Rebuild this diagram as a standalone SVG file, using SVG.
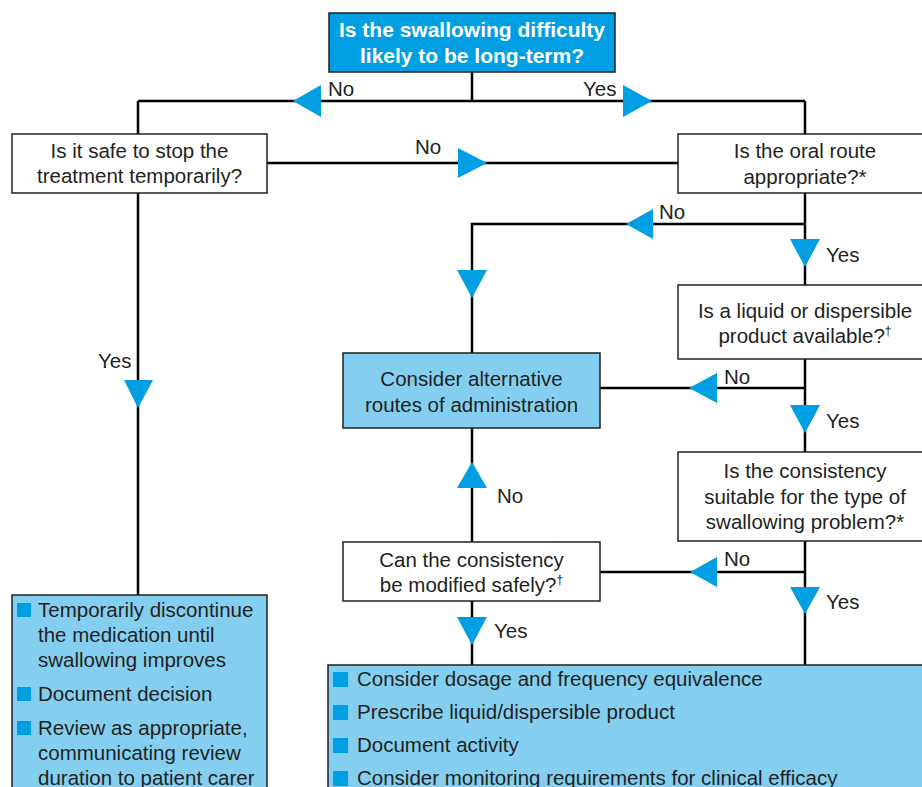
<svg xmlns="http://www.w3.org/2000/svg" width="922" height="787" viewBox="0 0 922 787">
<style>
.box{fill:#fff;stroke:#231f20;stroke-width:1.5}
.lbox{fill:#84cff0;stroke:#231f20;stroke-width:1.5}
.tbox{fill:#009fe3;stroke:#231f20;stroke-width:1.5}
.t{font-family:"Liberation Sans",Arial,sans-serif;font-size:20.5px;fill:#231f20}
.c{text-anchor:middle}
.tt{font-family:"Liberation Sans",Arial,sans-serif;font-size:21px;font-weight:bold;fill:#fff;text-anchor:middle}
.ln{stroke:#000;stroke-width:2.5;fill:none}
.ar{fill:#009fe3}
.bul{fill:#009fe3}
.sup{font-size:12px;fill:#231f20}
</style>
<rect width="922" height="787" fill="#fff"/>
<g id="connectors">
<path class="ln" d="M472 72V101M138 101H805M138 101V134M805 101V134M267 163H678M138 193V595M805 193V285M805 224H472V353M805 359V452M600 388H805M805 541V665M600 572H805M472 542V428M472 601V665"/>
<polygon class="ar" points="293,101 321,85 321,117"/>
<polygon class="ar" points="652,101 623,85 623,117"/>
<polygon class="ar" points="487,163 458,148 458,178"/>
<polygon class="ar" points="626,224 653,209 653,239"/>
<polygon class="ar" points="805,267 790,239 820,239"/>
<polygon class="ar" points="472,298 457,270 487,270"/>
<polygon class="ar" points="689,388 717,373 717,403"/>
<polygon class="ar" points="805,433 790,405 820,405"/>
<polygon class="ar" points="690,572 717,557 717,587"/>
<polygon class="ar" points="805,614 790,587 820,587"/>
<polygon class="ar" points="472,462 457,488 487,488"/>
<polygon class="ar" points="472,645 457,617 487,617"/>
<polygon class="ar" points="138,408 124,380 153,380"/>
<text class="t" x="328" y="96">No</text>
<text class="t" x="583" y="96">Yes</text>
<text class="t" x="415" y="154">No</text>
<text class="t" x="659" y="219">No</text>
<text class="t" x="826" y="262">Yes</text>
<text class="t" x="724" y="384">No</text>
<text class="t" x="826" y="428">Yes</text>
<text class="t" x="724" y="566">No</text>
<text class="t" x="826" y="609">Yes</text>
<text class="t" x="497" y="503">No</text>
<text class="t" x="494" y="638">Yes</text>
<text class="t" x="98" y="368">Yes</text>
</g>
<g id="start">
<rect class="tbox" x="329" y="13" width="286" height="59"/>
<text class="tt" x="472" y="37">Is the swallowing difficulty</text>
<text class="tt" x="472" y="63">likely to be long-term?</text>
</g>
<g id="safe-stop">
<rect class="box" x="12" y="134" width="255" height="59"/>
<text class="t c" x="139.5" y="158">Is it safe to stop the</text>
<text class="t c" x="139.5" y="183">treatment temporarily?</text>
</g>
<g id="oral-route">
<rect class="box" x="678" y="134" width="260" height="59"/>
<text class="t c" x="805" y="158">Is the oral route</text>
<text class="t c" x="805" y="184">appropriate?*</text>
</g>
<g id="liquid">
<rect class="box" x="678" y="285" width="260" height="74"/>
<text class="t c" x="805" y="318">Is a liquid or dispersible</text>
<text class="t c" x="805" y="343">product available?<tspan class="sup" dy="-8">†</tspan></text>
</g>
<g id="alternative">
<rect class="lbox" x="343" y="353" width="257" height="75"/>
<text class="t c" x="471.5" y="386">Consider alternative</text>
<text class="t c" x="471.5" y="412">routes of administration</text>
</g>
<g id="consistency">
<rect class="box" x="678" y="452" width="260" height="89"/>
<text class="t c" x="805" y="478">Is the consistency</text>
<text class="t c" x="805" y="504">suitable for the type of</text>
<text class="t c" x="805" y="529">swallowing problem?*</text>
</g>
<g id="modify">
<rect class="box" x="343" y="542" width="257" height="59"/>
<text class="t c" x="471.5" y="567">Can the consistency</text>
<text class="t c" x="471.5" y="592">be modified safely?<tspan class="sup" dy="-8">†</tspan></text>
</g>
<g id="discontinue">
<rect class="lbox" x="12" y="595" width="255" height="210"/>
<rect class="bul" x="17" y="603" width="14" height="14"/>
<text class="t" x="38" y="617">Temporarily discontinue</text>
<text class="t" x="38" y="642">the medication until</text>
<text class="t" x="38" y="667">swallowing improves</text>
<rect class="bul" x="17" y="687" width="14" height="14"/>
<text class="t" x="38" y="701">Document decision</text>
<rect class="bul" x="17" y="721" width="14" height="14"/>
<text class="t" x="38" y="735">Review as appropriate,</text>
<text class="t" x="38" y="760">communicating review</text>
<text class="t" x="38" y="785">duration to patient carer</text>
</g>
<g id="prescribe">
<rect class="lbox" x="328" y="665" width="620" height="140"/>
<rect class="bul" x="333" y="672" width="15" height="15"/>
<text class="t" x="357" y="686">Consider dosage and frequency equivalence</text>
<rect class="bul" x="333" y="705" width="15" height="15"/>
<text class="t" x="357" y="719">Prescribe liquid/dispersible product</text>
<rect class="bul" x="333" y="738" width="15" height="15"/>
<text class="t" x="357" y="752">Document activity</text>
<rect class="bul" x="333" y="771" width="15" height="15"/>
<text class="t" x="357" y="785">Consider monitoring requirements for clinical efficacy</text>
</g>
</svg>
